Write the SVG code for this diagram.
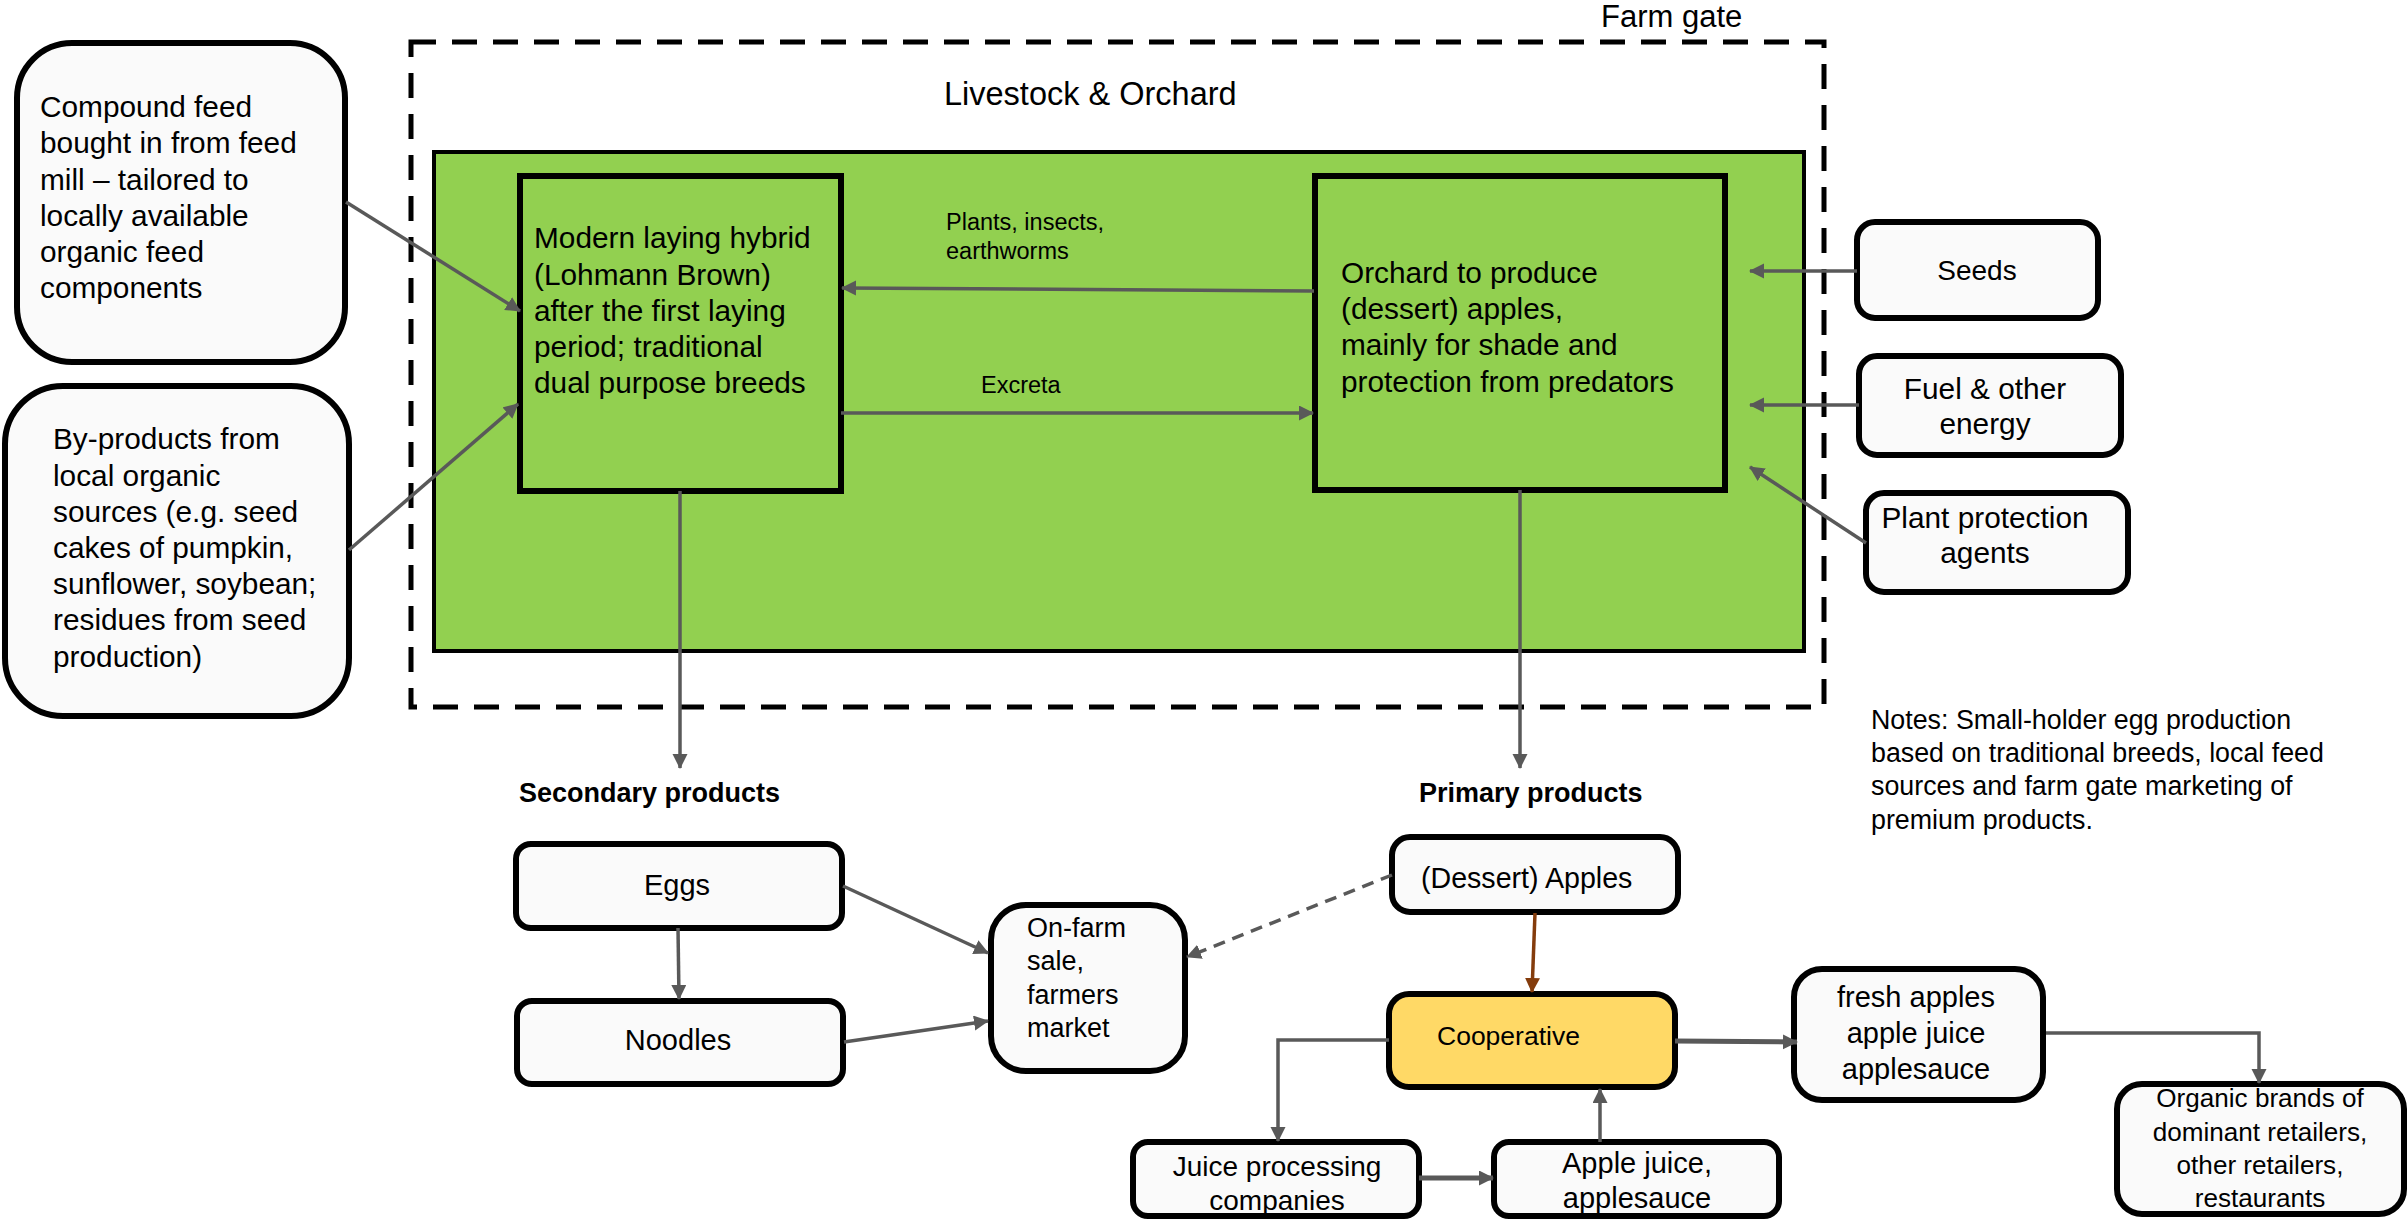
<svg xmlns="http://www.w3.org/2000/svg" width="2407" height="1225" viewBox="0 0 2407 1225">
  <style>
    text { font-family: "Liberation Sans", Arial, sans-serif; fill: #000; }
    .box { fill: #FAFAFA; stroke: #000; stroke-width: 6; }
    .inner { fill: #92D050; stroke: #000; stroke-width: 6; }
    .con { fill: none; stroke: #595959; stroke-width: 3.5; }
    .thick { stroke-width: 5; }
    .t30 { font-size: 29.8px; }
    .t29 { font-size: 29px; }
    .t28 { font-size: 28px; }
    .t27 { font-size: 27px; }
    .lbl { font-size: 23.5px; }
    .head { font-size: 27px; font-weight: bold; }
    .note { font-size: 26.8px; }
    .mid { text-anchor: middle; }
  </style>
  <defs>
    <marker id="arr" markerUnits="userSpaceOnUse" markerWidth="16" markerHeight="16" refX="14" refY="7.5" orient="auto">
      <path d="M0,0 L15,7.5 L0,15 z" fill="#595959"/>
    </marker>
    <marker id="arrBrown" markerUnits="userSpaceOnUse" markerWidth="16" markerHeight="16" refX="14" refY="7.5" orient="auto">
      <path d="M0,0 L15,7.5 L0,15 z" fill="#843C0C"/>
    </marker>
  </defs>

  <rect width="2407" height="1225" fill="#FFFFFF"/>

  <!-- farm gate boundary -->
  <g id="farm-gate">
    <rect x="411" y="42" width="1413" height="665" fill="none" stroke="#000" stroke-width="5" stroke-dasharray="25 16"/>
    <text x="1601" y="27" style="font-size:31px">Farm gate</text>
    <text x="944" y="105" style="font-size:32.5px">Livestock &amp; Orchard</text>
  </g>

  <!-- livestock & orchard area -->
  <g id="farm-area">
    <rect x="434" y="152" width="1370" height="499" fill="#92D050" stroke="#000" stroke-width="4"/>
  </g>

  <g id="node-laying">
    <rect class="inner" x="520" y="176" width="321" height="315"/>
    <text class="t30" x="534" y="248">Modern laying hybrid</text>
    <text class="t30" x="534" y="285">(Lohmann Brown)</text>
    <text class="t30" x="534" y="321">after the first laying</text>
    <text class="t30" x="534" y="357">period; traditional</text>
    <text class="t30" x="534" y="393">dual purpose breeds</text>
  </g>

  <g id="node-orchard">
    <rect class="inner" x="1315" y="176" width="410" height="314"/>
    <text class="t30" x="1341" y="283">Orchard to produce</text>
    <text class="t30" x="1341" y="319">(dessert) apples,</text>
    <text class="t30" x="1341" y="355">mainly for shade and</text>
    <text class="t30" x="1341" y="392">protection from predators</text>
  </g>

  <g id="node-compound-feed">
    <rect class="box" x="17" y="43" width="328" height="319" rx="55"/>
    <text class="t30" x="40" y="117">Compound feed</text>
    <text class="t30" x="40" y="153">bought in from feed</text>
    <text class="t30" x="40" y="190">mill – tailored to</text>
    <text class="t30" x="40" y="226">locally available</text>
    <text class="t30" x="40" y="262">organic feed</text>
    <text class="t30" x="40" y="298">components</text>
  </g>

  <g id="node-byproducts">
    <rect class="box" x="5" y="386" width="344" height="330" rx="58"/>
    <text class="t30" x="53" y="449">By-products from</text>
    <text class="t30" x="53" y="486">local organic</text>
    <text class="t30" x="53" y="522">sources (e.g. seed</text>
    <text class="t30" x="53" y="558">cakes of pumpkin,</text>
    <text class="t30" x="53" y="594">sunflower, soybean;</text>
    <text class="t30" x="53" y="630">residues from seed</text>
    <text class="t30" x="53" y="667">production)</text>
  </g>

  <g id="node-seeds">
    <rect class="box" x="1857" y="222" width="241" height="96" rx="18"/>
    <text class="t28 mid" x="1977" y="280">Seeds</text>
  </g>

  <g id="node-fuel">
    <rect class="box" x="1859" y="356" width="262" height="99" rx="18"/>
    <text class="t30 mid" x="1985" y="399">Fuel &amp; other</text>
    <text class="t30 mid" x="1985" y="434">energy</text>
  </g>

  <g id="node-plant-protection">
    <rect class="box" x="1866" y="493" width="262" height="99" rx="18"/>
    <text class="t30 mid" x="1985" y="528">Plant protection</text>
    <text class="t30 mid" x="1985" y="563">agents</text>
  </g>

  <g id="notes">
    <text class="note" x="1871" y="729">Notes: Small-holder egg production</text>
    <text class="note" x="1871" y="762">based on traditional breeds, local feed</text>
    <text class="note" x="1871" y="795">sources and farm gate marketing of</text>
    <text class="note" x="1871" y="829">premium products.</text>
  </g>

  <g id="headings">
    <text class="head" x="519" y="802">Secondary products</text>
    <text class="head" x="1419" y="802">Primary products</text>
  </g>

  <g id="node-eggs">
    <rect class="box" x="516" y="844" width="326" height="84" rx="15"/>
    <text class="t29 mid" x="677" y="895">Eggs</text>
  </g>

  <g id="node-noodles">
    <rect class="box" x="517" y="1001" width="326" height="83" rx="15"/>
    <text class="t29 mid" x="678" y="1050">Noodles</text>
  </g>

  <g id="node-onfarm">
    <rect class="box" x="991" y="905" width="194" height="166" rx="35"/>
    <text class="t27" x="1027" y="937">On-farm</text>
    <text class="t27" x="1027" y="970">sale,</text>
    <text class="t27" x="1027" y="1004">farmers</text>
    <text class="t27" x="1027" y="1037">market</text>
  </g>

  <g id="node-dessert-apples">
    <rect class="box" x="1392" y="837" width="286" height="75" rx="18"/>
    <text x="1421" y="888" style="font-size:28.6px">(Dessert) Apples</text>
  </g>

  <g id="node-cooperative">
    <rect x="1389" y="994" width="286" height="93" rx="20" fill="#FFD966" stroke="#000" stroke-width="6"/>
    <text x="1437" y="1045" style="font-size:26.5px">Cooperative</text>
  </g>

  <g id="node-juice-processing">
    <rect class="box" x="1133" y="1142" width="286" height="74" rx="15"/>
    <text class="t28 mid" x="1277" y="1176">Juice processing</text>
    <text class="t28 mid" x="1277" y="1210">companies</text>
  </g>

  <g id="node-apple-juice">
    <rect class="box" x="1494" y="1142" width="285" height="74" rx="15"/>
    <text class="t29 mid" x="1637" y="1173">Apple juice,</text>
    <text class="t29 mid" x="1637" y="1208">applesauce</text>
  </g>

  <g id="node-fresh">
    <rect class="box" x="1794" y="969" width="249" height="131" rx="28"/>
    <text class="t29 mid" x="1916" y="1007">fresh apples</text>
    <text class="t29 mid" x="1916" y="1043">apple juice</text>
    <text class="t29 mid" x="1916" y="1079">applesauce</text>
  </g>

  <g id="node-retail">
    <rect class="box" x="2117" y="1084" width="287" height="130" rx="25"/>
    <text class="mid" x="2260" y="1107" style="font-size:26.1px">Organic brands of</text>
    <text class="mid" x="2260" y="1141" style="font-size:26.1px">dominant retailers,</text>
    <text class="mid" x="2260" y="1174" style="font-size:26.1px">other retailers,</text>
    <text class="mid" x="2260" y="1207" style="font-size:26.1px">restaurants</text>
  </g>

  <!-- connectors -->
  <g id="connectors">
    <line class="con" x1="346" y1="202" x2="520" y2="311" marker-end="url(#arr)"/>
    <line class="con" x1="349" y1="550" x2="518" y2="404" marker-end="url(#arr)"/>
    <line class="con" x1="1314" y1="291" x2="842" y2="288" marker-end="url(#arr)"/>
    <line class="con" x1="841" y1="413" x2="1313" y2="413" marker-end="url(#arr)"/>
    <text class="lbl" x="946" y="230">Plants, insects,</text>
    <text class="lbl" x="946" y="259">earthworms</text>
    <text class="lbl" x="981" y="393">Excreta</text>
    <line class="con" x1="1857" y1="271" x2="1750" y2="271" marker-end="url(#arr)"/>
    <line class="con" x1="1859" y1="405" x2="1750" y2="405" marker-end="url(#arr)"/>
    <line class="con" x1="1866" y1="543" x2="1750" y2="467" marker-end="url(#arr)"/>
    <line class="con" x1="680" y1="491" x2="680" y2="768" marker-end="url(#arr)"/>
    <line class="con" x1="1520" y1="490" x2="1520" y2="768" marker-end="url(#arr)"/>
    <line class="con" x1="678" y1="928" x2="679" y2="999" marker-end="url(#arr)"/>
    <line class="con" x1="843" y1="886" x2="988" y2="953" marker-end="url(#arr)"/>
    <line class="con" x1="844" y1="1042" x2="988" y2="1021" marker-end="url(#arr)"/>
    <line class="con" x1="1392" y1="875" x2="1187" y2="957" stroke-dasharray="12 8" marker-end="url(#arr)"/>
    <line x1="1535" y1="913" x2="1532" y2="992" fill="none" stroke="#843C0C" stroke-width="3.5" marker-end="url(#arrBrown)"/>
    <polyline class="con" points="1389,1040 1278,1040 1278,1141" marker-end="url(#arr)"/>
    <line class="con thick" x1="1419" y1="1178" x2="1493" y2="1178" marker-end="url(#arr)"/>
    <line class="con" x1="1600" y1="1142" x2="1600" y2="1089" marker-end="url(#arr)"/>
    <line class="con thick" x1="1675" y1="1041" x2="1797" y2="1042" marker-end="url(#arr)"/>
    <polyline class="con" points="2046,1033 2259,1033 2259,1083" marker-end="url(#arr)"/>
  </g>
</svg>
